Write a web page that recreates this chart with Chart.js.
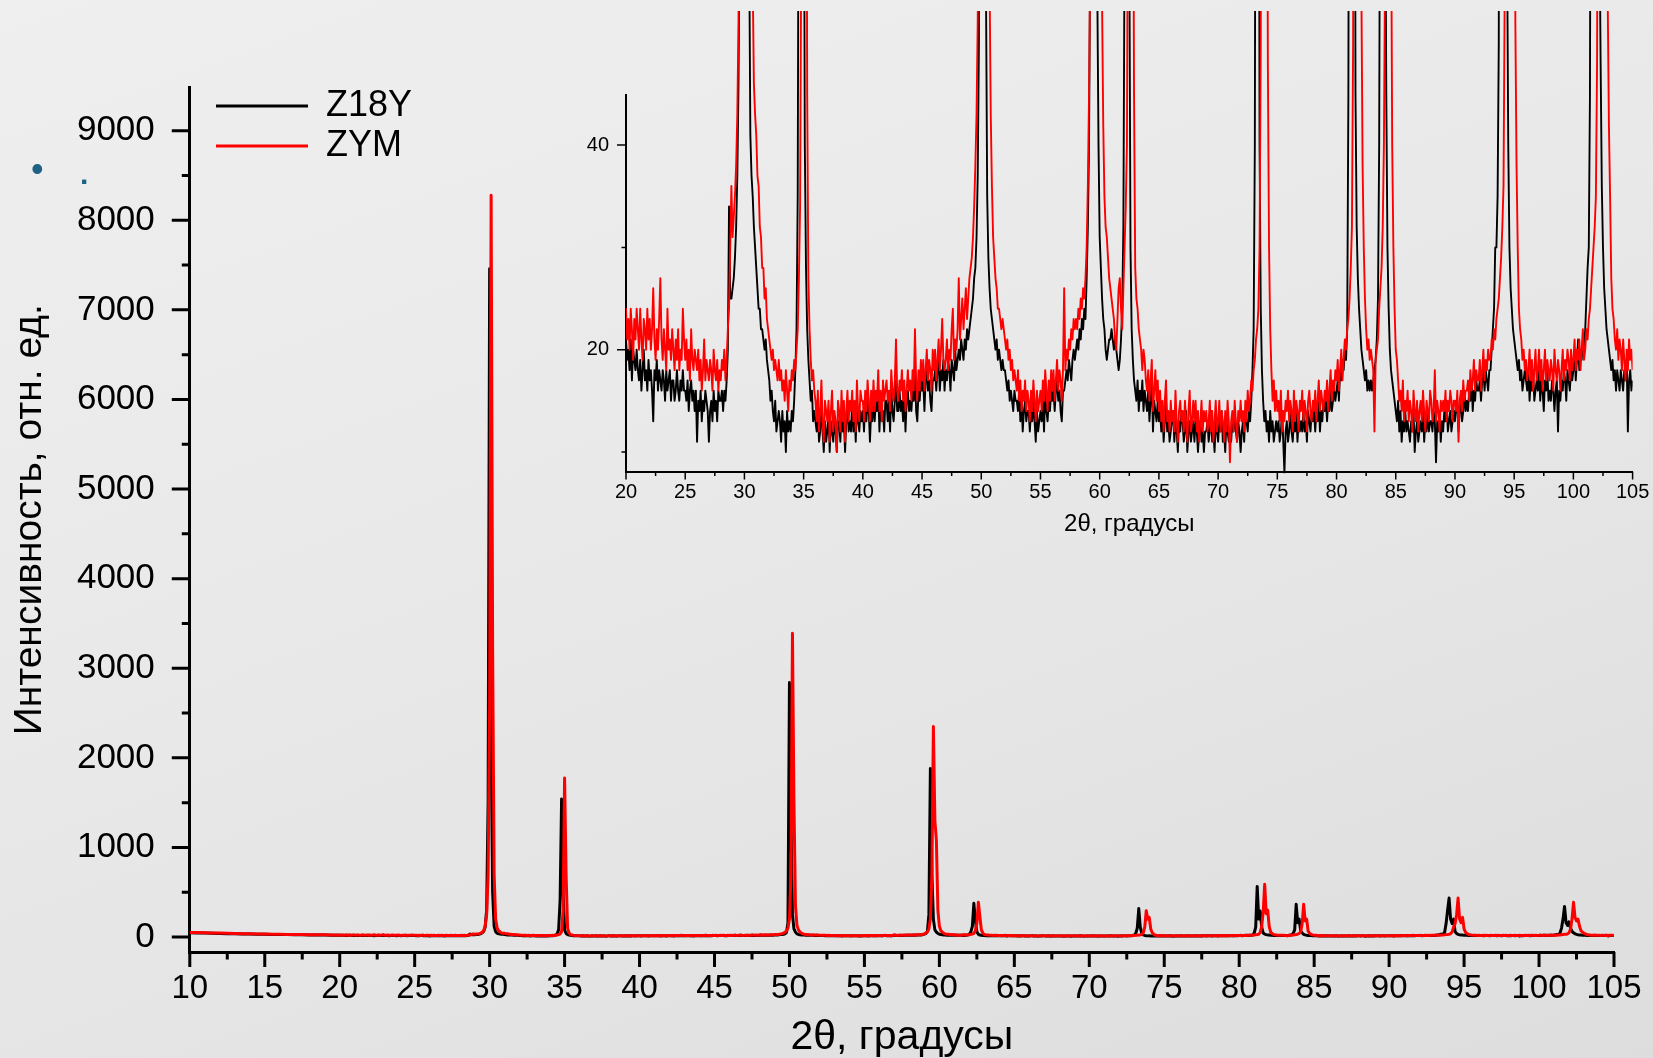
<!DOCTYPE html>
<html>
<head>
<meta charset="utf-8">
<script src="https://cdn.jsdelivr.net/npm/chart.js@4.4.1/dist/chart.umd.min.js"></script>
<style>
html,body{margin:0;padding:0;}
body{width:1653px;height:1058px;overflow:hidden;position:relative;
  background:linear-gradient(160deg,#efefef 0%,#e8e8e8 50%,#dddddd 100%);
  font-family:'Liberation Sans',Arial,Helvetica,sans-serif;}
canvas{position:absolute;}
#main{left:0;top:0;}
#inset{left:540px;top:0;}
.bullet{position:absolute;color:#1d6283;line-height:1;font-family:'Liberation Sans',Arial,sans-serif;}
</style>
</head>
<body>
<canvas id="main" width="1653" height="1058"></canvas>
<canvas id="inset" width="1113" height="545"></canvas>
<span class="bullet" style="left:31px;top:151px;font-size:36px;">•</span>
<span class="bullet" style="left:80px;top:159px;font-size:30px;font-weight:bold;">.</span>
<script>
// ---------------- data ----------------
const seriesNames  = ['Z18Y', 'ZYM'];
const seriesColors = ['#000000', '#ff0000'];

// low-angle part (10-19.5 deg), only visible on the main plot
const lowAngles = [10,10.5,11,11.5,12,12.5,13,13.5,14,14.5,15,15.5,16,16.5,17,17.5,18,18.5,19,19.5];
const lowZ18Y   = [48,46,44,42,40,38,36,35,33,32,30,29,28,27,26,25,24,23,22,21];
const lowZYM    = [52,50,48,46,44,42,40,38,37,35,33,32,30,29,28,27,26,25,25,24];

// scan 20.0 ... 105.0 deg, step 0.1 deg (one row = one degree)
const scanStart = 20.0;
const scanStep  = 0.1;

const z18yScan = [
/*20*/ 21,19,20,18,21,17,20,19,18,20,
/*21*/ 18,17,19,16,18,20,17,18,16,19,
/*22*/ 17,18,16,13,18,17,19,16,18,17,
/*23*/ 16,18,17,15,18,16,17,18,15,17,
/*24*/ 17,15,16,18,16,15,17,16,18,16,
/*25*/ 16,15,17,14,16,17,15,16,14,16,
/*26*/ 11,15,14,16,13,15,14,16,15,14,
/*27*/ 11,14,15,13,16,14,15,13,16,15,
/*28*/ 15,16,14,16,15,17,20,34,25,25,
/*29*/ 26,27,29,32,37,46,62,110,300,1500,
/*30*/ 7460,2200,500,120,60,41,37,35,32,30,
/*31*/ 28,26,24,24,22,22,21,20,21,19,
/*32*/ 18,17,15,16,14,13,15,12,13,14,
/*33*/ 13,11,14,12,13,10,14,12,13,12,
/*34*/ 14,13,15,18,22,35,80,400,1540,500,
/*35*/ 80,40,28,22,19,17,15,16,13,14,
/*36*/ 13,12,14,11,12,15,12,10,13,11,
/*37*/ 12,14,10,13,12,11,13,12,10,13,
/*38*/ 13,11,14,12,13,10,13,15,12,13,
/*39*/ 12,15,12,14,11,15,13,12,14,13,
/*40*/ 14,12,15,13,15,14,11,14,13,15,
/*41*/ 13,15,14,16,12,15,13,14,12,15,
/*42*/ 15,13,15,12,16,14,13,15,17,14,
/*43*/ 14,16,14,15,13,16,12,15,16,14,
/*44*/ 15,14,16,15,18,14,13,16,15,17,
/*45*/ 16,17,14,17,18,16,17,15,14,17,
/*46*/ 17,18,16,18,19,16,18,17,19,16,
/*47*/ 18,17,19,18,16,19,18,17,20,18,
/*48*/ 19,20,19,21,20,19,21,20,22,21,
/*49*/ 22,23,24,25,27,28,31,37,50,160,
/*50*/ 2840,1300,250,90,55,35,29,26,24,23,
/*51*/ 22,21,20,21,19,20,19,18,19,18,
/*52*/ 18,17,16,17,15,16,15,14,16,15,
/*53*/ 15,14,16,13,15,12,14,15,13,14,
/*54*/ 14,12,14,13,15,13,11,14,12,13,
/*55*/ 14,13,15,12,16,14,13,15,14,16,
/*56*/ 15,16,14,16,17,15,16,14,13,16,
/*57*/ 16,17,18,17,19,18,17,19,20,19,
/*58*/ 20,21,20,22,21,23,22,24,23,27,
/*59*/ 32,40,60,250,1880,700,200,80,55,40,
/*60*/ 31,28,25,23,22,20,19,20,21,21,
/*61*/ 22,21,20,21,20,19,18,19,21,24,
/*62*/ 32,60,120,376,180,60,30,22,19,17,
/*63*/ 16,15,17,14,16,15,17,14,16,15,
/*64*/ 14,16,13,15,17,12,15,14,13,15,
/*65*/ 13,14,12,14,11,13,15,12,13,11,
/*66*/ 12,13,14,11,13,12,10,13,12,14,
/*67*/ 13,11,12,14,10,12,13,11,12,13,
/*68*/ 11,13,12,10,12,13,11,12,10,12,
/*69*/ 12,13,11,12,14,11,12,10,13,12,
/*70*/ 11,13,12,14,11,12,10,13,12,11,
/*71*/ 12,11,13,12,14,12,11,13,12,10,
/*72*/ 12,13,11,14,13,12,14,13,15,18,
/*73*/ 22,40,100,318,110,40,24,18,15,13,
/*74*/ 14,12,13,11,14,12,13,11,12,13,
/*75*/ 12,13,11,12,14,11,8,12,13,11,
/*76*/ 12,14,12,11,13,12,14,11,13,12,
/*77*/ 13,12,14,12,13,11,14,13,12,14,
/*78*/ 13,14,12,14,13,15,12,14,13,15,
/*79*/ 14,15,13,15,14,16,14,15,16,15,
/*80*/ 16,17,15,18,17,19,18,20,19,22,
/*81*/ 45,110,565,200,290,110,45,32,27,24,
/*82*/ 22,20,19,18,17,18,16,17,16,17,
/*83*/ 16,17,18,19,21,25,40,80,365,160,
/*84*/ 200,70,45,30,24,20,18,17,16,15,
/*85*/ 14,13,15,12,14,11,13,12,14,12,
/*86*/ 13,12,11,13,12,14,10,12,13,11,
/*87*/ 12,13,12,14,11,13,12,14,12,13,
/*88*/ 13,12,14,13,9,13,12,14,11,13,
/*89*/ 12,14,13,15,12,13,14,12,13,14,
/*90*/ 13,15,14,12,14,15,13,14,16,14,
/*91*/ 15,14,16,15,17,14,16,15,17,16,
/*92*/ 16,17,15,17,18,16,18,17,16,18,
/*93*/ 18,20,22,24,30,30,35,50,150,300,
/*94*/ 435,200,150,200,60,40,30,26,24,22,
/*95*/ 21,20,19,18,19,17,18,16,17,18,
/*96*/ 17,16,18,15,17,16,18,15,16,17,
/*97*/ 16,18,15,17,16,14,17,16,18,15,
/*98*/ 16,15,17,16,14,16,17,12,16,15,
/*99*/ 17,16,18,17,15,18,17,16,18,17,
/*100*/ 18,20,17,19,21,18,20,19,21,20,
/*101*/ 22,25,28,30,45,100,200,341,160,130,
/*102*/ 170,100,62,48,36,30,26,24,22,21,
/*103*/ 20,19,18,19,17,18,16,18,17,16,
/*104*/ 18,17,16,18,17,19,12,17,18,16,
/*105*/ 17
];

const zymScan = [
/*20*/ 24,21,23,20,24,22,19,23,21,24,
/*21*/ 22,20,24,21,19,23,22,20,24,21,
/*22*/ 23,20,22,26,21,19,22,20,23,27,
/*23*/ 21,19,22,20,18,24,20,21,19,22,
/*24*/ 20,18,21,19,22,18,20,19,24,21,
/*25*/ 19,21,18,20,17,22,19,18,20,19,
/*26*/ 18,20,17,19,16,18,21,17,19,18,
/*27*/ 17,19,18,16,20,18,17,19,16,18,
/*28*/ 17,19,18,20,17,19,22,24,30,36,
/*29*/ 31,33,35,38,43,52,70,120,250,700,
/*30*/ 2600,8280,3200,700,200,100,70,56,46,43,
/*31*/ 41,37,36,32,31,28,28,25,26,23,
/*32*/ 22,21,20,19,20,18,19,18,17,19,
/*33*/ 17,18,16,17,15,18,16,14,17,16,
/*34*/ 18,17,19,18,20,22,27,34,60,300,
/*35*/ 1776,700,100,45,27,22,19,17,18,16,
/*36*/ 15,13,16,12,14,17,13,11,15,14,
/*37*/ 13,15,11,14,16,12,14,13,10,15,
/*38*/ 14,12,16,13,15,11,14,16,13,15,
/*39*/ 14,16,13,15,12,17,14,13,16,15,
/*40*/ 15,13,16,14,17,15,13,16,14,17,
/*41*/ 14,16,15,18,14,16,13,17,15,16,
/*42*/ 17,15,16,14,18,16,15,17,21,16,
/*43*/ 15,17,16,18,15,17,14,16,18,16,
/*44*/ 17,15,18,16,22,17,15,18,16,19,
/*45*/ 17,19,16,18,20,17,19,18,16,20,
/*46*/ 18,20,17,19,21,18,20,23,19,18,
/*47*/ 19,21,18,20,19,22,24,19,21,20,
/*48*/ 22,27,21,23,25,22,24,26,23,25,
/*49*/ 27,28,29,31,34,38,43,52,68,100,
/*50*/ 200,700,3390,1500,350,130,80,56,43,36,
/*51*/ 31,29,27,26,24,24,23,22,23,22,
/*52*/ 21,20,21,19,20,18,19,17,18,17,
/*53*/ 16,18,15,17,14,16,15,17,14,16,
/*54*/ 15,13,16,14,17,15,13,16,14,15,
/*55*/ 16,14,17,15,18,16,14,17,15,18,
/*56*/ 16,18,15,17,19,16,18,17,15,18,
/*57*/ 26,18,20,19,21,20,22,21,23,22,
/*58*/ 23,22,24,23,25,24,26,25,27,30,
/*59*/ 36,45,58,90,200,700,2350,1300,1080,300,
/*60*/ 120,70,54,42,35,32,31,29,27,26,
/*61*/ 25,24,23,21,20,23,26,27,24,22,
/*62*/ 26,30,34,40,70,150,388,230,80,45,
/*63*/ 28,25,24,22,21,20,18,20,19,17,
/*64*/ 16,18,15,17,19,14,16,18,15,17,
/*65*/ 14,16,13,15,12,15,17,13,14,12,
/*66*/ 15,13,14,12,16,13,11,14,15,13,
/*67*/ 14,12,15,13,11,14,16,12,13,15,
/*68*/ 13,15,12,14,11,13,15,12,14,13,
/*69*/ 14,12,13,15,12,14,11,13,15,12,
/*70*/ 13,15,12,14,13,11,14,12,15,13,
/*71*/ 9,13,14,12,15,13,11,14,13,15,
/*72*/ 13,14,12,15,13,16,14,15,17,16,
/*73*/ 18,19,21,22,24,30,50,110,294,200,
/*74*/ 220,90,48,30,22,18,15,17,14,16,
/*75*/ 14,15,13,16,12,14,13,15,14,16,
/*76*/ 13,15,14,12,16,13,15,14,12,15,
/*77*/ 14,16,13,15,14,12,15,16,14,13,
/*78*/ 15,14,16,13,15,17,14,16,15,14,
/*79*/ 16,15,17,14,16,18,15,17,16,18,
/*80*/ 17,19,16,18,20,17,19,21,20,22,
/*81*/ 23,25,28,32,50,120,280,588,260,300,
/*82*/ 120,55,38,30,25,22,20,21,19,20,
/*83*/ 19,18,12,19,20,21,24,26,28,32,
/*84*/ 40,58,150,365,180,200,65,40,30,24,
/*85*/ 20,19,17,15,16,14,17,13,15,14,
/*86*/ 16,13,15,14,12,16,14,13,15,12,
/*87*/ 14,15,13,16,14,12,15,14,13,16,
/*88*/ 15,13,14,18,13,15,14,12,15,14,
/*89*/ 15,14,16,13,15,14,16,15,13,15,
/*90*/ 15,14,16,11,15,16,14,17,15,16,
/*91*/ 16,17,15,18,16,17,19,16,18,17,
/*92*/ 17,19,16,18,20,17,19,18,20,19,
/*93*/ 19,21,20,22,21,23,24,25,27,29,
/*94*/ 32,36,55,110,150,250,435,200,160,220,
/*95*/ 90,52,38,30,24,22,21,19,20,18,
/*96*/ 19,17,18,20,17,19,16,18,20,17,
/*97*/ 18,20,17,19,16,18,20,17,19,18,
/*98*/ 17,19,18,16,20,18,17,19,18,16,
/*99*/ 18,20,17,19,18,20,19,17,20,18,
/*100*/ 19,21,18,20,19,21,18,20,22,19,
/*101*/ 20,22,21,23,24,26,28,30,32,35,
/*102*/ 48,90,200,388,220,180,200,120,70,54,
/*103*/ 42,35,27,24,23,21,20,22,19,21,
/*104*/ 20,18,21,19,17,20,18,21,19,20,
/*105*/ 18
];

// axes: ranges and tick positions (major ticks carry labels)
const mainXRange  = [10, 105];
const mainYRange  = [-167, 9482];
const insetXRange = [20, 105];
const insetYRange = [8.07, 44.9];

const mainXTicks  = [10,12.5,15,17.5,20,22.5,25,27.5,30,32.5,35,37.5,40,42.5,45,47.5,50,52.5,55,57.5,60,62.5,65,67.5,70,72.5,75,77.5,80,82.5,85,87.5,90,92.5,95,97.5,100,102.5,105];
const mainYTicks  = [0,500,1000,1500,2000,2500,3000,3500,4000,4500,5000,5500,6000,6500,7000,7500,8000,8500,9000];
const insetXTicks = [20,22.5,25,27.5,30,32.5,35,37.5,40,42.5,45,47.5,50,52.5,55,57.5,60,62.5,65,67.5,70,72.5,75,77.5,80,82.5,85,87.5,90,92.5,95,97.5,100,102.5,105];
const insetYTicks = [10,20,30,40];
const mainXLabelEvery = 5, mainYLabelEvery = 1000, insetXLabelEvery = 5, insetYLabelEvery = 20;

const mainXTitle  = '2θ, градусы';
const mainYTitle  = 'Интенсивность, отн. ед.';
const insetXTitle = '2θ, градусы';

// ---------------- helpers ----------------
function buildPoints(low, scan) {
  const pts = low.map((y, i) => ({x: lowAngles[i], y}));
  scan.forEach((y, i) => pts.push({x: Math.round((scanStart + i * scanStep) * 10) / 10, y}));
  return pts;
}
function isMult(v, m) { return Math.abs(v / m - Math.round(v / m)) < 1e-6; }
function setTicks(values) { return s => { s.ticks = values.map(v => ({value: v})); }; }

const z18yPts = buildPoints(lowZ18Y, z18yScan);
const zymPts  = buildPoints(lowZYM, zymScan);

const FONT = "'Liberation Sans', Arial, Helvetica, sans-serif";
Chart.defaults.font.family = FONT;
Chart.defaults.color = '#000';

// outward major/minor tick marks drawn from the chart's own scales
const frameTicks = {
  id: 'frameTicks',
  afterDraw(chart, args, o) {
    const {ctx, chartArea: a} = chart;
    const xs = chart.scales.x, ys = chart.scales.y;
    ctx.save();
    ctx.strokeStyle = '#000';
    ctx.lineWidth = o.width;
    ctx.lineCap = 'butt';
    ctx.beginPath();
    xs.ticks.forEach(t => {
      const p = xs.getPixelForValue(t.value);
      const L = isMult(t.value, o.xMajor) ? o.xMajorLen : o.xMinorLen;
      ctx.moveTo(p, a.bottom); ctx.lineTo(p, a.bottom + L);
    });
    ys.ticks.forEach(t => {
      const p = ys.getPixelForValue(t.value);
      const L = isMult(t.value, o.yMajor) ? o.yMajorLen : o.yMinorLen;
      ctx.moveTo(a.left, p); ctx.lineTo(a.left - L, p);
    });
    ctx.stroke();
    ctx.restore();
  }
};

// place the legend inside the plot, top-left
const legendPlace = {
  id: 'legendPlace',
  afterLayout(chart, args, o) {
    const lg = chart.legend;
    if (!lg) return;
    lg.left = o.left; lg.top = o.top;
    lg.right = o.left + 400; lg.bottom = o.top + 300;
  }
};

function legendLabels(chart) {
  return chart.data.datasets.map((ds, i) => ({
    text: ds.label, fillStyle: ds.borderColor, strokeStyle: ds.borderColor,
    lineWidth: 0, hidden: false, datasetIndex: i, fontColor: '#000'
  }));
}

function xFit(h) { return s => { s.height = h; s.paddingLeft = 0; s.paddingRight = 0; }; }
function yFit(w) { return s => { s.width = w; s.paddingTop = 0; s.paddingBottom = 0; }; }

// ---------------- main chart ----------------
new Chart(document.getElementById('main'), {
  type: 'line',
  data: {
    datasets: [
      {label: seriesNames[0], data: z18yPts, borderColor: seriesColors[0], backgroundColor: seriesColors[0],
       borderWidth: 3, pointRadius: 0, order: 1, borderJoinStyle: 'round', tension: 0},
      {label: seriesNames[1], data: zymPts, borderColor: seriesColors[1], backgroundColor: seriesColors[1],
       borderWidth: 3, pointRadius: 0, order: 0, borderJoinStyle: 'round', tension: 0}
    ]
  },
  options: {
    responsive: false, animation: false, events: [],
    layout: {padding: {left: 0, top: 87.5, right: 39, bottom: 0}},
    scales: {
      x: {
        type: 'linear', bounds: 'data', min: mainXRange[0], max: mainXRange[1],
        grid: {display: false, drawTicks: false},
        border: {display: true, color: '#000', width: 3},
        afterBuildTicks: setTicks(mainXTicks),
        ticks: {autoSkip: false, maxRotation: 0, minRotation: 0, padding: 17, color: '#000',
                font: {size: 33, lineHeight: 1.2},
                callback: v => isMult(v, mainXLabelEvery) ? String(v) : ''},
        title: {display: true, text: mainXTitle, color: '#000', font: {size: 41, lineHeight: 1},
                padding: {top: 0, bottom: 0}},
        afterFit: xFit(106)
      },
      y: {
        type: 'linear', bounds: 'data', min: mainYRange[0], max: mainYRange[1],
        grid: {display: false, drawTicks: false},
        border: {display: true, color: '#000', width: 3},
        afterBuildTicks: setTicks(mainYTicks),
        ticks: {autoSkip: false, padding: 35, color: '#000', font: {size: 35, lineHeight: 1.2},
                callback: v => isMult(v, mainYLabelEvery) ? String(v) : ''},
        title: {display: true, text: mainYTitle, color: '#000', font: {size: 39, lineHeight: 1.2},
                padding: {top: 7, bottom: 0}},
        afterFit: yFit(189.8)
      }
    },
    plugins: {
      legend: {
        display: true, position: 'chartArea', align: 'start',
        labels: {boxWidth: 92, boxHeight: 3, padding: 4, color: '#000', font: {size: 36},
                 generateLabels: legendLabels}
      },
      tooltip: {enabled: false},
      legendPlace: {left: 212, top: 84},
      frameTicks: {width: 3, xMajor: mainXLabelEvery, xMajorLen: 15, xMinorLen: 7.5,
                   yMajor: mainYLabelEvery, yMajorLen: 18, yMinorLen: 8}
    }
  },
  plugins: [frameTicks, legendPlace]
});

// ---------------- inset chart ----------------
new Chart(document.getElementById('inset'), {
  type: 'line',
  data: {
    datasets: [
      {label: seriesNames[0], data: z18yPts, borderColor: seriesColors[0], borderWidth: 1.9, pointRadius: 0,
       order: 1, borderJoinStyle: 'round', tension: 0, clip: {left: 0, top: 84, right: 0, bottom: 3}},
      {label: seriesNames[1], data: zymPts, borderColor: seriesColors[1], borderWidth: 1.9, pointRadius: 0,
       order: 0, borderJoinStyle: 'round', tension: 0, clip: {left: 0, top: 84, right: 0, bottom: 3}}
    ]
  },
  options: {
    responsive: false, animation: false, events: [],
    layout: {padding: {left: 0, top: 95, right: 20.4, bottom: 0}},
    scales: {
      x: {
        type: 'linear', bounds: 'data', min: insetXRange[0], max: insetXRange[1],
        grid: {display: false, drawTicks: false},
        border: {display: true, color: '#000', width: 2},
        afterBuildTicks: setTicks(insetXTicks),
        ticks: {autoSkip: false, maxRotation: 0, minRotation: 0, padding: 9, color: '#000',
                font: {size: 20, lineHeight: 1.2},
                callback: v => isMult(v, insetXLabelEvery) ? String(v) : ''},
        title: {display: true, text: insetXTitle, color: '#000', font: {size: 24, lineHeight: 1},
                padding: {top: 0, bottom: 9}},
        afterFit: xFit(73.3)
      },
      y: {
        type: 'linear', bounds: 'data', min: insetYRange[0], max: insetYRange[1],
        grid: {display: false, drawTicks: false},
        border: {display: true, color: '#000', width: 2},
        afterBuildTicks: setTicks(insetYTicks),
        ticks: {autoSkip: false, padding: 17, color: '#000', font: {size: 20, lineHeight: 1.2},
                callback: v => isMult(v, insetYLabelEvery) ? String(v) : ''},
        afterFit: yFit(86)
      }
    },
    plugins: {
      legend: {display: false},
      tooltip: {enabled: false},
      frameTicks: {width: 1.5, xMajor: insetXLabelEvery, xMajorLen: 7.7, xMinorLen: 4.3,
                   yMajor: insetYLabelEvery, yMajorLen: 9, yMinorLen: 4.5}
    }
  },
  plugins: [frameTicks]
});
</script>
</body>
</html>
